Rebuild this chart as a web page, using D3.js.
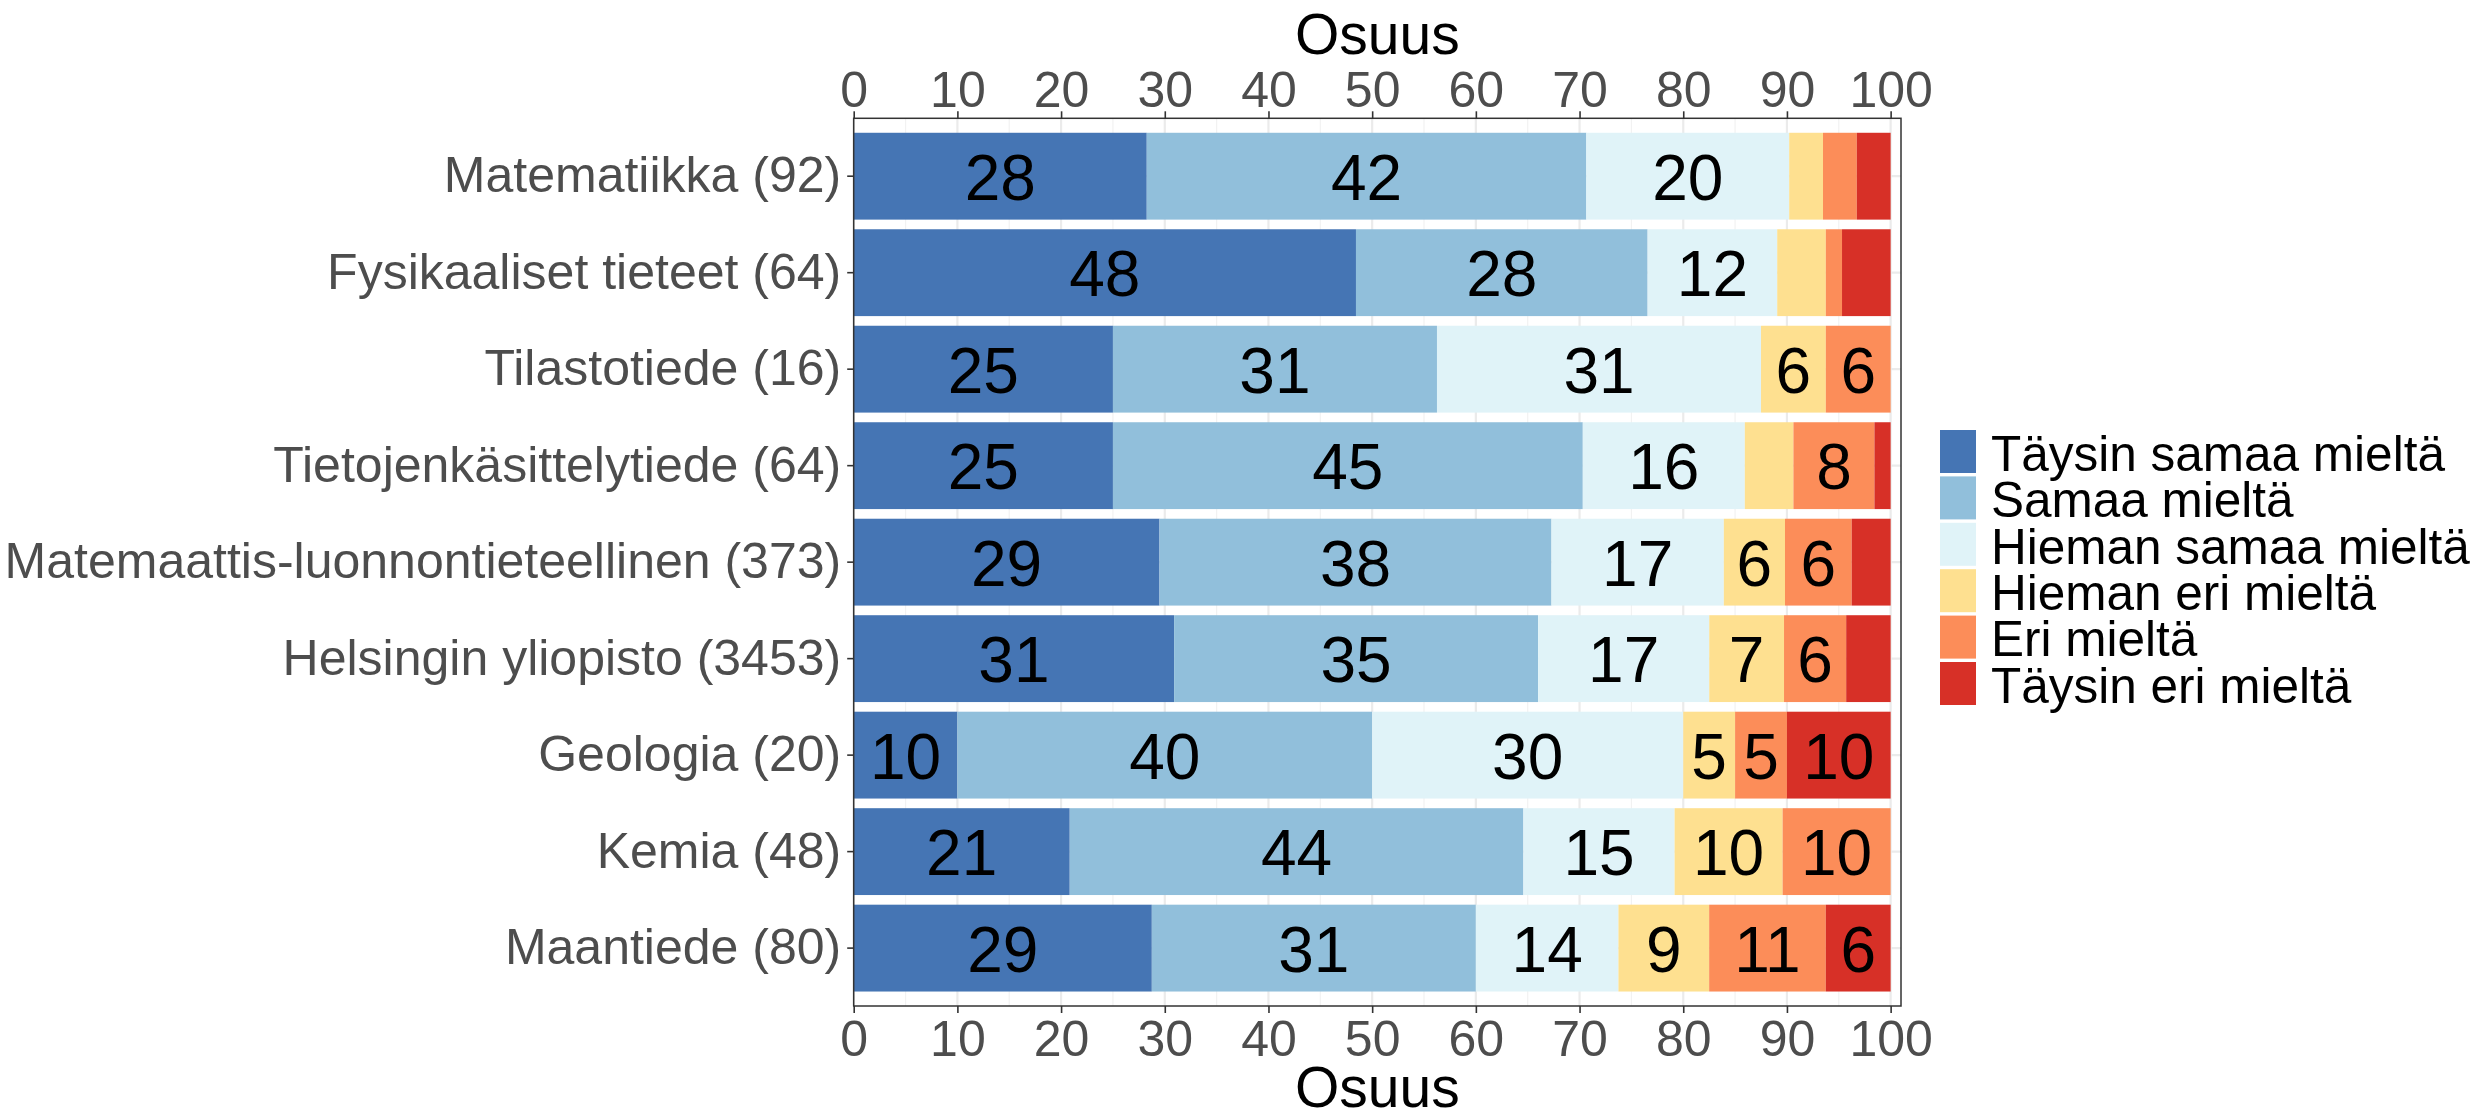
<!DOCTYPE html>
<html>
<head>
<meta charset="utf-8">
<script src="https://cdn.jsdelivr.net/npm/d3@7"></script>
<style>
  body { margin: 0; background: #fff; }
  text { font-family: "Liberation Sans", Arial, sans-serif; }
</style>
</head>
<body>
<div id="chart"></div>
<script>
// Subjects (top to bottom), with respondent counts in the label
const subjects = [
  'Matematiikka (92)',
  'Fysikaaliset tieteet (64)',
  'Tilastotiede (16)',
  'Tietojenkäsittelytiede (64)',
  'Matemaattis-luonnontieteellinen (373)',
  'Helsingin yliopisto (3453)',
  'Geologia (20)',
  'Kemia (48)',
  'Maantiede (80)'
];

// Answer levels in stacking order
const levels = [
  'Täysin samaa mieltä',
  'Samaa mieltä',
  'Hieman samaa mieltä',
  'Hieman eri mieltä',
  'Eri mieltä',
  'Täysin eri mieltä'
];
const colors = ['#4575b4', '#91bfdb', '#e0f3f8', '#fee090', '#fc8d59', '#d73027'];

// Answer counts for each subject, one array per level
const taysinSamaa = [26, 31, 4, 16, 110, 1067, 2, 10, 23];
const samaa       = [39, 18, 5, 29, 141, 1212, 8, 21, 25];
const hiemanSamaa = [18, 8, 5, 10, 62, 570, 6, 7, 11];
const hiemanEri   = [3, 3, 1, 3, 22, 249, 1, 5, 7];
const eri         = [3, 1, 1, 5, 24, 207, 1, 5, 9];
const taysinEri   = [3, 3, 0, 1, 14, 148, 2, 0, 5];

const xTicks = [0, 10, 20, 30, 40, 50, 60, 70, 80, 90, 100];

// Layout
const W = 2479, H = 1115,
  pLeft = 853.7, pRight = 1901, pTop = 118.3, pBottom = 1006,
  tickFont = 50, labelFont = 64, titleFont = 57, legendFont = 49.5;

// R style rounding (half to even), like the labels in the original
const roundHalfEven = v => {
  const f = Math.floor(v), d = v - f;
  if (Math.abs(d - 0.5) < 1e-9) return f % 2 === 0 ? f : f + 1;
  return Math.round(v);
};

const series = [taysinSamaa, samaa, hiemanSamaa, hiemanEri, eri, taysinEri];
const rows = subjects.map((s, i) => {
  const n = d3.sum(series, a => a[i]);
  const row = { subject: s };
  levels.forEach((l, j) => { row[l] = series[j][i] / n * 100; });
  return row;
});
const stacked = d3.stack().keys(levels)(rows);

const x = d3.scaleLinear().domain([0, 101]).range([pLeft, pRight]);
const y = d3.scaleBand().domain(subjects).range([pTop, pBottom])
  .paddingInner(0.1).paddingOuter(0.15);

const svg = d3.select('#chart').append('svg')
  .attr('width', W).attr('height', H)
  .style('background', '#fff');

// Grid lines
const grid = svg.append('g');
grid.selectAll('.minor').data(d3.range(5, 100, 10)).enter().append('line')
  .attr('x1', d => x(d)).attr('x2', d => x(d))
  .attr('y1', pTop).attr('y2', pBottom)
  .attr('stroke', '#f2f2f2').attr('stroke-width', 1.2);
grid.selectAll('.major').data(xTicks).enter().append('line')
  .attr('x1', d => x(d)).attr('x2', d => x(d))
  .attr('y1', pTop).attr('y2', pBottom)
  .attr('stroke', '#ebebeb').attr('stroke-width', 2.2);
grid.selectAll('.hmajor').data(subjects).enter().append('line')
  .attr('x1', pLeft).attr('x2', pRight)
  .attr('y1', d => y(d) + y.bandwidth() / 2).attr('y2', d => y(d) + y.bandwidth() / 2)
  .attr('stroke', '#ebebeb').attr('stroke-width', 2.2);

// Stacked bars
const layer = svg.selectAll('.layer').data(stacked).enter().append('g')
  .attr('fill', (d, i) => colors[i]);
layer.selectAll('rect').data(d => d).enter().append('rect')
  .attr('x', d => x(d[0]))
  .attr('y', d => y(d.data.subject))
  .attr('width', d => x(d[1]) - x(d[0]))
  .attr('height', y.bandwidth());

// Value labels (only for segments of at least 5 %)
layer.selectAll('text').data(d => d.filter(s => s[1] - s[0] >= 5)).enter().append('text')
  .attr('x', d => x((d[0] + d[1]) / 2))
  .attr('y', d => y(d.data.subject) + y.bandwidth() / 2)
  .attr('dy', '0.37em')
  .attr('text-anchor', 'middle')
  .attr('fill', '#000')
  .style('font-size', labelFont + 'px')
  .text(d => roundHalfEven(d[1] - d[0]));

// Panel border
svg.append('rect')
  .attr('x', pLeft).attr('y', pTop)
  .attr('width', pRight - pLeft).attr('height', pBottom - pTop)
  .attr('fill', 'none').attr('stroke', '#333').attr('stroke-width', 1.5);

// Axes
const styleAxis = g => {
  g.select('.domain').remove();
  g.selectAll('.tick line').attr('stroke', '#333').attr('stroke-width', 1.6);
  g.selectAll('.tick text').attr('fill', '#4d4d4d')
    .style('font-size', tickFont + 'px').style('font-family', '"Liberation Sans", Arial, sans-serif');
};

svg.append('g').attr('transform', 'translate(0,' + pTop + ')')
  .call(d3.axisTop(x).tickValues(xTicks).tickSize(7).tickPadding(4))
  .call(styleAxis);

svg.append('g').attr('transform', 'translate(0,' + pBottom + ')')
  .call(d3.axisBottom(x).tickValues(xTicks).tickSize(7).tickPadding(7))
  .call(styleAxis);

svg.append('g').attr('transform', 'translate(' + pLeft + ',0)')
  .call(d3.axisLeft(y).tickSize(6.5).tickPadding(6))
  .call(styleAxis);

// Axis titles
const midX = (pLeft + pRight) / 2;
svg.append('text').attr('x', midX).attr('y', 54)
  .attr('text-anchor', 'middle').style('font-size', titleFont + 'px')
  .text('Osuus');
svg.append('text').attr('x', midX).attr('y', 1107)
  .attr('text-anchor', 'middle').style('font-size', titleFont + 'px')
  .text('Osuus');

// Legend
const legend = svg.append('g').attr('transform', 'translate(1940,430)');
const item = legend.selectAll('g').data(levels).enter().append('g')
  .attr('transform', (d, i) => 'translate(0,' + i * 46.4 + ')');
item.append('rect').attr('width', 36).attr('height', 43)
  .attr('fill', (d, i) => colors[i]);
item.append('text').attr('x', 51).attr('y', 40.7)
  .style('font-size', legendFont + 'px')
  .text(d => d);
</script>
</body>
</html>
